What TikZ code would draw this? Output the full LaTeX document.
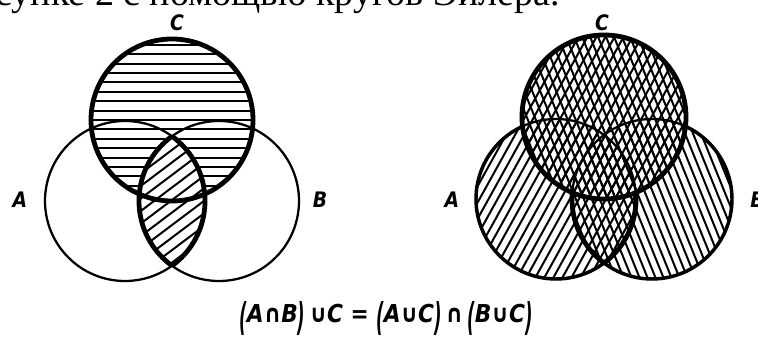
\documentclass[tikz,border=0pt]{standalone}
\usepackage{fontspec}
\setmainfont{Liberation Serif}
\newfontfamily\handfont[FakeStretch=0.88]{DejaVu Sans}
\usepackage{graphicx}
\newcommand{\tallpar}[1]{\raisebox{-0.3em}{\scalebox{0.75}[1.55]{#1}}}
\newcommand{\hatchset}[4]{%
  \begin{scope}[shift={#1},rotate=#2]
    \foreach \k in {-#4,...,#4} \draw[hatchline] (-170,\k*#3) -- (170,\k*#3);
  \end{scope}}

\begin{document}
\begin{tikzpicture}[x=0.75pt,y=-0.75pt,
  hatchline/.style={line width=1.5pt},
  thinring/.style={line width=1.7pt},
  midring/.style={line width=2.6pt},
  boldring/.style={line width=3.6pt},
  setname/.style={font=\handfont\bfseries\itshape\fontsize{16}{16}\selectfont,inner sep=0pt}]
\useasboundingbox (0,0) rectangle (758,338);
\clip (0,0) rectangle (758,338);
\node[anchor=base east,inner sep=0pt,font=\fontsize{28.5}{30}\selectfont] (heading) at (560,5.5) {рисунке 2 с помощью кругов Эйлера.};

% left: (A and B) or C
\coordinate (A1) at (125,201);
\coordinate (B1) at (219,201);
\coordinate (C1) at (172,120);
\begin{scope}
  \clip (C1) circle[radius=81];
  \hatchset{(C1)}{0}{9.4}{9}
\end{scope}
\begin{scope}
  \clip (A1) circle[radius=80];
  \clip (B1) circle[radius=80];
  \fill[white] (A1) circle[radius=80];
  \hatchset{(172,200)}{37}{10}{9}
\end{scope}
\draw[thinring] (A1) circle[radius=80] (B1) circle[radius=80];
\begin{scope}
  \clip (B1) circle[radius=80];
  \draw[boldring] (A1) circle[radius=80];
\end{scope}
\begin{scope}
  \clip (A1) circle[radius=80];
  \draw[boldring] (B1) circle[radius=80];
\end{scope}
\draw[boldring] (C1) circle[radius=81];
\node[setname] (a1) at (20,200) {A};
\node[setname] (b1) at (320,200) {B};
\node[setname] (c1) at (177,23) {C};

% right: (A or C) and (B or C)
\coordinate (A2) at (556,199);
\coordinate (B2) at (652,199);
\coordinate (C2) at (604,117);
\begin{scope}
  \clip (A2) circle[radius=80];
  \hatchset{(604,170)}{61}{7.9}{20}
\end{scope}
\begin{scope}
  \clip (C2) circle[radius=82];
  \hatchset{(604,170)}{61}{7.9}{20}
\end{scope}
\begin{scope}
  \clip (B2) circle[radius=80];
  \hatchset{(604,170)}{112}{7.4}{20}
\end{scope}
\begin{scope}
  \clip (C2) circle[radius=82];
  \hatchset{(604,170)}{112}{7.4}{20}
\end{scope}
\draw[thinring] (A2) circle[radius=80] (B2) circle[radius=80];
\begin{scope}[even odd rule]
  \clip (0,0) rectangle (758,338) (C2) circle[radius=82];
  \draw[midring] (A2) circle[radius=80] (B2) circle[radius=80];
  \begin{scope}
    \clip (B2) circle[radius=80];
    \draw[boldring] (A2) circle[radius=80];
  \end{scope}
  \begin{scope}
    \clip (A2) circle[radius=80];
    \draw[boldring] (B2) circle[radius=80];
  \end{scope}
\end{scope}
\draw[boldring] (C2) circle[radius=82];
\node[setname] (a2) at (452,200) {A};
\node[setname,anchor=west] (b2) at (750,200) {B};
\node[setname] (c2) at (602,23) {C};

% the law under both pictures
\node[anchor=base,inner sep=0pt,font=\handfont\bfseries\itshape\fontsize{18.5}{20}\selectfont] (law) at (386,323)
  {\tallpar{(}A∩B\tallpar{)}\,∪C = \tallpar{(}A∪C\tallpar{)}\,∩\,\tallpar{(}B∪C\tallpar{)}};
\end{tikzpicture}
\end{document}
